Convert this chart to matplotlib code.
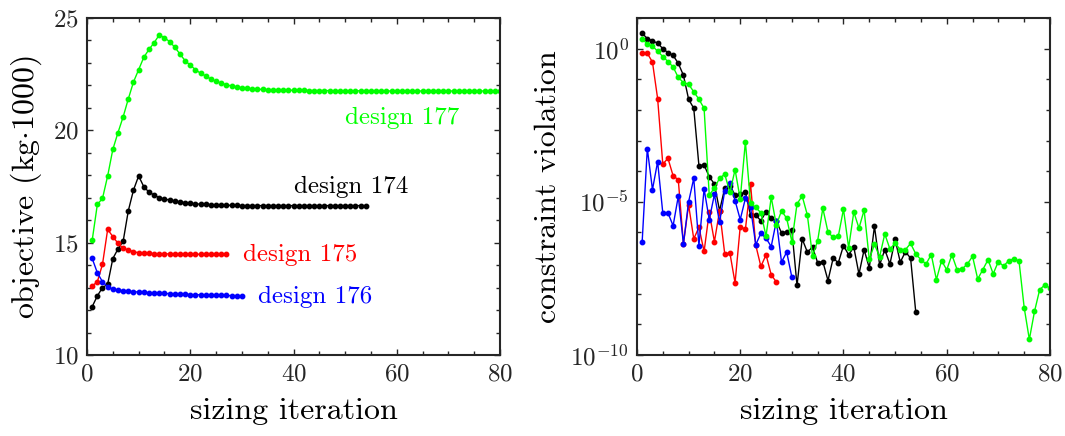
import numpy as np
import matplotlib
matplotlib.use("Agg")
import matplotlib.pyplot as plt
from matplotlib.ticker import FixedLocator, MultipleLocator, NullFormatter

plt.rcParams["font.family"] = "cmr10"
plt.rcParams["mathtext.fontset"] = "cm"
plt.rcParams["axes.formatter.use_mathtext"] = True
plt.rcParams["font.size"] = 18

# objective (kg*1000) per sizing iteration
obj_174 = [12.15, 12.63, 13.0, 13.15, 14.29, 14.72, 15.06, 16.42, 17.34, 17.97,
           17.49, 17.25, 17.12, 17.0, 16.94, 16.9, 16.85, 16.81, 16.78, 16.75,
           16.73, 16.71, 16.7, 16.69, 16.68, 16.67, 16.67, 16.66, 16.66, 16.65,
           16.65, 16.65, 16.65, 16.65, 16.65, 16.65, 16.65, 16.65, 16.65, 16.65,
           16.65, 16.65, 16.65, 16.65, 16.65, 16.65, 16.65, 16.65, 16.65, 16.65,
           16.65, 16.65, 16.65, 16.65]
obj_175 = [13.07, 13.26, 14.04, 15.59, 15.27, 14.97, 14.75, 14.67, 14.6, 14.55,
           14.53, 14.52, 14.51, 14.5, 14.5, 14.5, 14.49, 14.49, 14.49, 14.49,
           14.49, 14.48, 14.48, 14.48, 14.48, 14.48, 14.48]
obj_176 = [14.3, 13.66, 13.26, 13.04, 12.92, 12.89, 12.86, 12.84, 12.82, 12.8,
           12.79, 12.77, 12.76, 12.75, 12.74, 12.73, 12.72, 12.71, 12.7, 12.69,
           12.68, 12.68, 12.67, 12.66, 12.66, 12.65, 12.65, 12.64, 12.64, 12.63]
obj_177 = [15.1, 16.7, 16.97, 17.97, 19.15, 19.9, 20.6, 21.4, 22.15, 22.7,
           23.25, 23.6, 23.9, 24.25, 24.12, 23.95, 23.7, 23.4, 23.1, 22.9,
           22.7, 22.54, 22.42, 22.28, 22.18, 22.1, 22.03, 21.97, 21.93, 21.9,
           21.87, 21.85, 21.83, 21.82, 21.81, 21.8, 21.8, 21.79, 21.79, 21.78,
           21.78, 21.78, 21.77, 21.77, 21.77, 21.77, 21.77, 21.76, 21.76, 21.76,
           21.76, 21.76, 21.76, 21.76, 21.76, 21.76, 21.75, 21.75, 21.75, 21.75,
           21.75, 21.75, 21.75, 21.75, 21.75, 21.75, 21.75, 21.75, 21.75, 21.75,
           21.75, 21.75, 21.75, 21.75, 21.75, 21.75, 21.75, 21.75, 21.75, 21.75]

# log10 of constraint violation per sizing iteration
logv_174 = [0.50, 0.33, 0.25, 0.18, 0.0, -0.13, -0.22, -0.48, -0.87, -1.65,
            -1.95, -3.82, -3.80, -4.18, -4.42, -5.29, -4.55, -4.47, -4.78, -4.75,
            -4.69, -5.43, -5.43, -5.62, -5.32, -5.54, -5.62, -6.02, -5.97, -5.92,
            -7.73, -6.21, -6.64, -6.48, -6.99, -6.95, -7.57, -6.84, -6.99, -6.43,
            -6.73, -6.48, -7.36, -6.56, -7.16, -5.8, -7.06, -6.56, -7.03, -6.23,
            -6.97, -6.63, -6.84, -8.6]
logv_175 = [-0.13, -0.15, -0.44, -1.63, -3.77, -3.58, -4.15, -4.28, -6.37, -5.1,
            -6.21, -5.83, -6.62, -5.34, -6.3, -5.29, -6.7, -6.67, -7.65, -5.81,
            -5.9, -4.42, -6.41, -7.11, -6.73, -7.38, -7.62]
logv_176 = [-6.32, -3.26, -4.6, -3.69, -5.36, -5.36, -5.78, -4.82, -6.37, -5.0,
            -4.23, -6.43, -4.58, -5.58, -4.76, -5.67, -4.64, -4.37, -4.96, -5.58,
            -4.89, -5.18, -6.4, -6.03, -6.19, -6.46, -5.62, -6.97, -6.64, -7.46]
logv_177 = [0.33, 0.14, 0.08, -0.08, -0.26, -0.42, -0.6, -0.94, -1.11, -1.16,
            -1.41, -1.65, -1.95, -4.78, -4.55, -4.23, -4.1, -4.69, -3.95, -4.91,
            -3.04, -5.05, -5.18, -5.36, -6.12, -4.85, -5.76, -5.29, -5.54, -6.3,
            -5.07, -4.81, -5.43, -6.77, -6.27, -5.21, -5.99, -6.16, -6.12, -5.24,
            -6.5, -5.33, -5.86, -5.27, -6.88, -6.39, -6.79, -6.05, -6.54, -6.35,
            -6.56, -6.56, -6.36, -6.7, -6.89, -7.03, -6.72, -7.54, -6.92, -7.22,
            -6.73, -7.21, -7.19, -7.03, -6.78, -7.52, -7.21, -6.89, -7.35, -6.95,
            -7.1, -6.92, -6.86, -6.93, -8.45, -9.49, -8.58, -7.87, -7.71, -7.82]

designs = ["design 174", "design 175", "design 176", "design 177"]
colors = ["black", "#ff0000", "#0000ff", "#00ff00"]
objs = [obj_174, obj_175, obj_176, obj_177]
logvs = [logv_174, logv_175, logv_176, logv_177]
label_pos = [(40, 17.5), (30.2, 14.45), (33.1, 12.58), (50, 20.55)]

fig = plt.figure(figsize=(10.65, 4.36), dpi=100)
ax1 = fig.add_axes([0.0817, 0.1858, 0.3878, 0.7729])
ax2 = fig.add_axes([0.5981, 0.1858, 0.3878, 0.7729])

line_kw = dict(marker="o", markersize=3.2, linewidth=1.0)

for obj, c, name, (tx, ty) in zip(objs, colors, designs, label_pos):
    it = np.arange(1, len(obj) + 1)
    ax1.plot(it, obj, color=c, **line_kw)
    ax1.text(tx, ty, name, color=c, ha="left", va="center", fontsize=18)

for lv, c in zip(logvs, colors):
    it = np.arange(1, len(lv) + 1)
    ax2.semilogy(it, 10.0 ** np.array(lv), color=c, **line_kw)

ax1.set_xlim(0, 80)
ax1.set_ylim(10, 25)
ax1.set_xticks([0, 20, 40, 60, 80])
ax1.set_yticks([10, 15, 20, 25])
ax1.xaxis.set_minor_locator(MultipleLocator(5))
ax1.yaxis.set_minor_locator(MultipleLocator(1))
ax1.set_xlabel("sizing iteration", fontsize=23, labelpad=9)
ax1.set_ylabel(r"objective (kg$\cdot$1000)", fontsize=23, labelpad=6)

ax2.set_xlim(0, 80)
ax2.set_ylim(1e-10, 1e1)
ax2.set_xticks([0, 20, 40, 60, 80])
ax2.set_yticks([1e-10, 1e-5, 1e0])
ax2.xaxis.set_minor_locator(MultipleLocator(5))
ax2.yaxis.set_minor_locator(FixedLocator(10.0 ** np.arange(-10, 2)))
ax2.yaxis.set_minor_formatter(NullFormatter())
ax2.set_xlabel("sizing iteration", fontsize=23, labelpad=9)
ax2.set_ylabel("constraint violation", fontsize=23, labelpad=6)

for ax in (ax1, ax2):
    for s in ax.spines.values():
        s.set_linewidth(1.5)
        s.set_color("#262626")
    ax.tick_params(which="both", direction="in", top=True, right=True,
                   colors="#262626", labelcolor="#262626", width=1.0)
    ax.tick_params(which="major", length=4.5, labelsize=18, pad=6)
    ax.tick_params(which="minor", length=2.8)

fig.savefig("out.png", dpi=100)
